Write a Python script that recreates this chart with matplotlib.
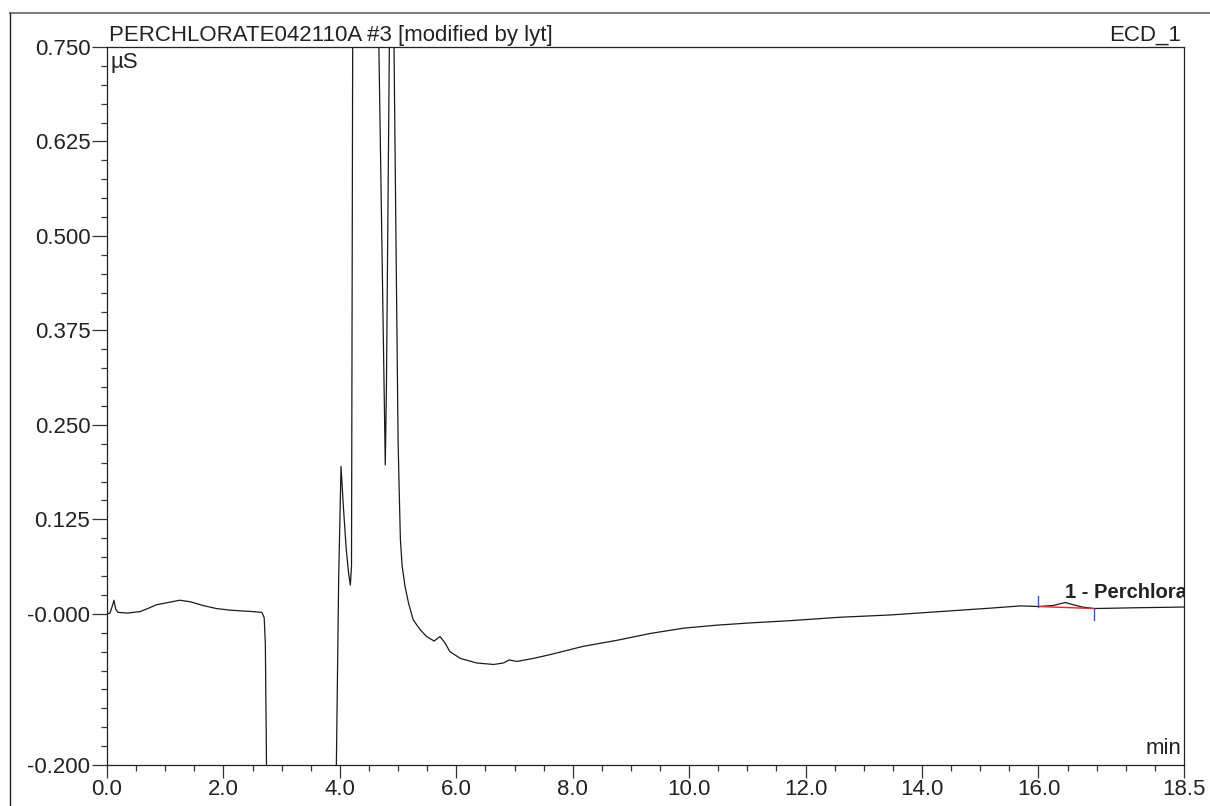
import numpy as np
import matplotlib
matplotlib.use("Agg")
import matplotlib.pyplot as plt
from matplotlib.lines import Line2D
from matplotlib.ticker import FixedLocator, MultipleLocator, FuncFormatter

plt.rcParams['font.family'] = ['Liberation Sans', 'DejaVu Sans']

# Chromatogram (min, uS). Off-scale parts get
# stand-in values, they are clipped by the axes anyway.
time_min = [0.00, 0.05, 0.09, 0.12, 0.15, 0.19, 0.35, 0.57, 0.70, 0.85,
            1.05, 1.25, 1.43, 1.65, 1.88, 2.10, 2.28, 2.50, 2.66, 2.70,
            2.72, 2.74, 2.76, 3.92, 3.94, 3.98, 4.02, 4.06, 4.11, 4.15,
            4.18, 4.20, 4.22, 4.28, 4.60, 4.67, 4.73, 4.78, 4.80, 4.85,
            4.89, 4.93, 4.97, 5.00, 5.02, 5.04, 5.07, 5.12, 5.18, 5.26,
            5.38, 5.49, 5.62, 5.72, 5.81, 5.89, 6.07, 6.35, 6.64, 6.81,
            6.91, 7.04, 7.32, 7.61, 8.18, 8.76, 9.33, 9.90, 10.47, 11.05,
            11.74, 12.59, 13.45, 14.31, 15.17, 15.69, 16.00, 16.25, 16.46, 16.60,
            16.75, 16.96, 17.63, 18.50]
signal_us = [0.000, 0.001, 0.010, 0.018, 0.006, 0.002, 0.001, 0.003, 0.007, 0.012,
             0.015, 0.018, 0.016, 0.011, 0.007, 0.005, 0.004, 0.003, 0.002, -0.005,
             -0.040, -0.200, -0.600, -0.600, -0.200, 0.050, 0.195, 0.142, 0.085, 0.054,
             0.038, 0.063, 0.750, 2.000, 1.500, 0.750, 0.450, 0.197, 0.300, 0.750,
             1.500, 0.750, 0.450, 0.230, 0.160, 0.098, 0.063, 0.036, 0.014, -0.008,
             -0.021, -0.030, -0.036, -0.030, -0.039, -0.050, -0.059, -0.065, -0.067, -0.065,
             -0.061, -0.063, -0.059, -0.054, -0.043, -0.035, -0.026, -0.019, -0.015, -0.012,
             -0.009, -0.0045, -0.0015, 0.003, 0.0075, 0.0105, 0.0097, 0.011, 0.015, 0.012,
             0.009, 0.007, 0.008, 0.009]

# peak 1 integration: start / end of baseline
peak_name = "1 - Perchlorate"
peak_start = (16.00, 0.0097)
peak_end = (16.96, 0.007)

x_ticks = [0.0, 2.0, 4.0, 6.0, 8.0, 10.0, 12.0, 14.0, 16.0, 18.5]
y_ticks = [-0.200, 0.000, 0.125, 0.250, 0.375, 0.500, 0.625, 0.750]

title_left = "PERCHLORATE042110A #3 [modified by lyt]"
title_right = "ECD_1"


def y_fmt(v, pos):
    if abs(v) < 1e-9:
        return "-0.000"
    return "%.3f" % v


def main():
    fig = plt.figure(figsize=(12.1, 8.06), dpi=100)
    ax = fig.add_axes([107 / 1210, 1 - 765 / 806, (1184 - 107) / 1210, (765 - 47) / 806])

    ax.plot(time_min, signal_us, color='#1a1a1a', lw=0.9)

    # integration baseline and delimiters
    ax.plot([peak_start[0], peak_end[0]], [peak_start[1], peak_end[1]], color='#e8262b', lw=1.0)
    ax.plot([peak_start[0], peak_start[0]], [peak_start[1], peak_start[1] + 0.014], color='#3552c8', lw=1.0)
    ax.plot([peak_end[0], peak_end[0]], [peak_end[1], peak_end[1] - 0.015], color='#3552c8', lw=1.0)
    ax.text(16.46, 0.0205, peak_name, fontsize=14.5, fontweight='bold', color='#222222',
            clip_on=True)

    ax.set_xlim(0, 18.5)
    ax.set_ylim(-0.2, 0.75)

    ax.xaxis.set_major_locator(FixedLocator(x_ticks))
    ax.xaxis.set_minor_locator(MultipleLocator(0.5))
    ax.xaxis.set_major_formatter(FuncFormatter(lambda v, p: "%.1f" % v))
    ax.yaxis.set_major_locator(FixedLocator(y_ticks))
    ax.yaxis.set_minor_locator(MultipleLocator(0.025))
    ax.yaxis.set_major_formatter(FuncFormatter(y_fmt))

    ax.tick_params(which='major', direction='out', length=11, width=0.9, color='#333333',
                   labelsize=16, pad=1, labelcolor='#222222')
    ax.tick_params(axis='x', which='major', length=9)
    ax.tick_params(which='minor', direction='out', length=4.5, width=0.9, color='#333333')
    for s in ax.spines.values():
        s.set_linewidth(0.9)
        s.set_color('#222222')

    ax.text(0.002, 1.002, title_left, transform=ax.transAxes, fontsize=16,
            ha='left', va='bottom', color='#222222')
    ax.text(0.997, 1.002, title_right, transform=ax.transAxes, fontsize=16,
            ha='right', va='bottom', color='#222222')
    ax.text(0.003, 0.993, "µS", transform=ax.transAxes, fontsize=16,
            ha='left', va='top', color='#222222')
    ax.text(0.998, 0.008, "min", transform=ax.transAxes, fontsize=16,
            ha='right', va='bottom', color='#222222')

    # page frame
    fig.add_artist(Line2D([10 / 1210, 1.0], [1 - 13 / 806, 1 - 13 / 806], color='#666666', lw=1.2))
    fig.add_artist(Line2D([10 / 1210, 10 / 1210], [0, 1 - 13 / 806], color='#222222', lw=1.0))

    fig.savefig("out.png", dpi=100)


if __name__ == "__main__":
    main()
